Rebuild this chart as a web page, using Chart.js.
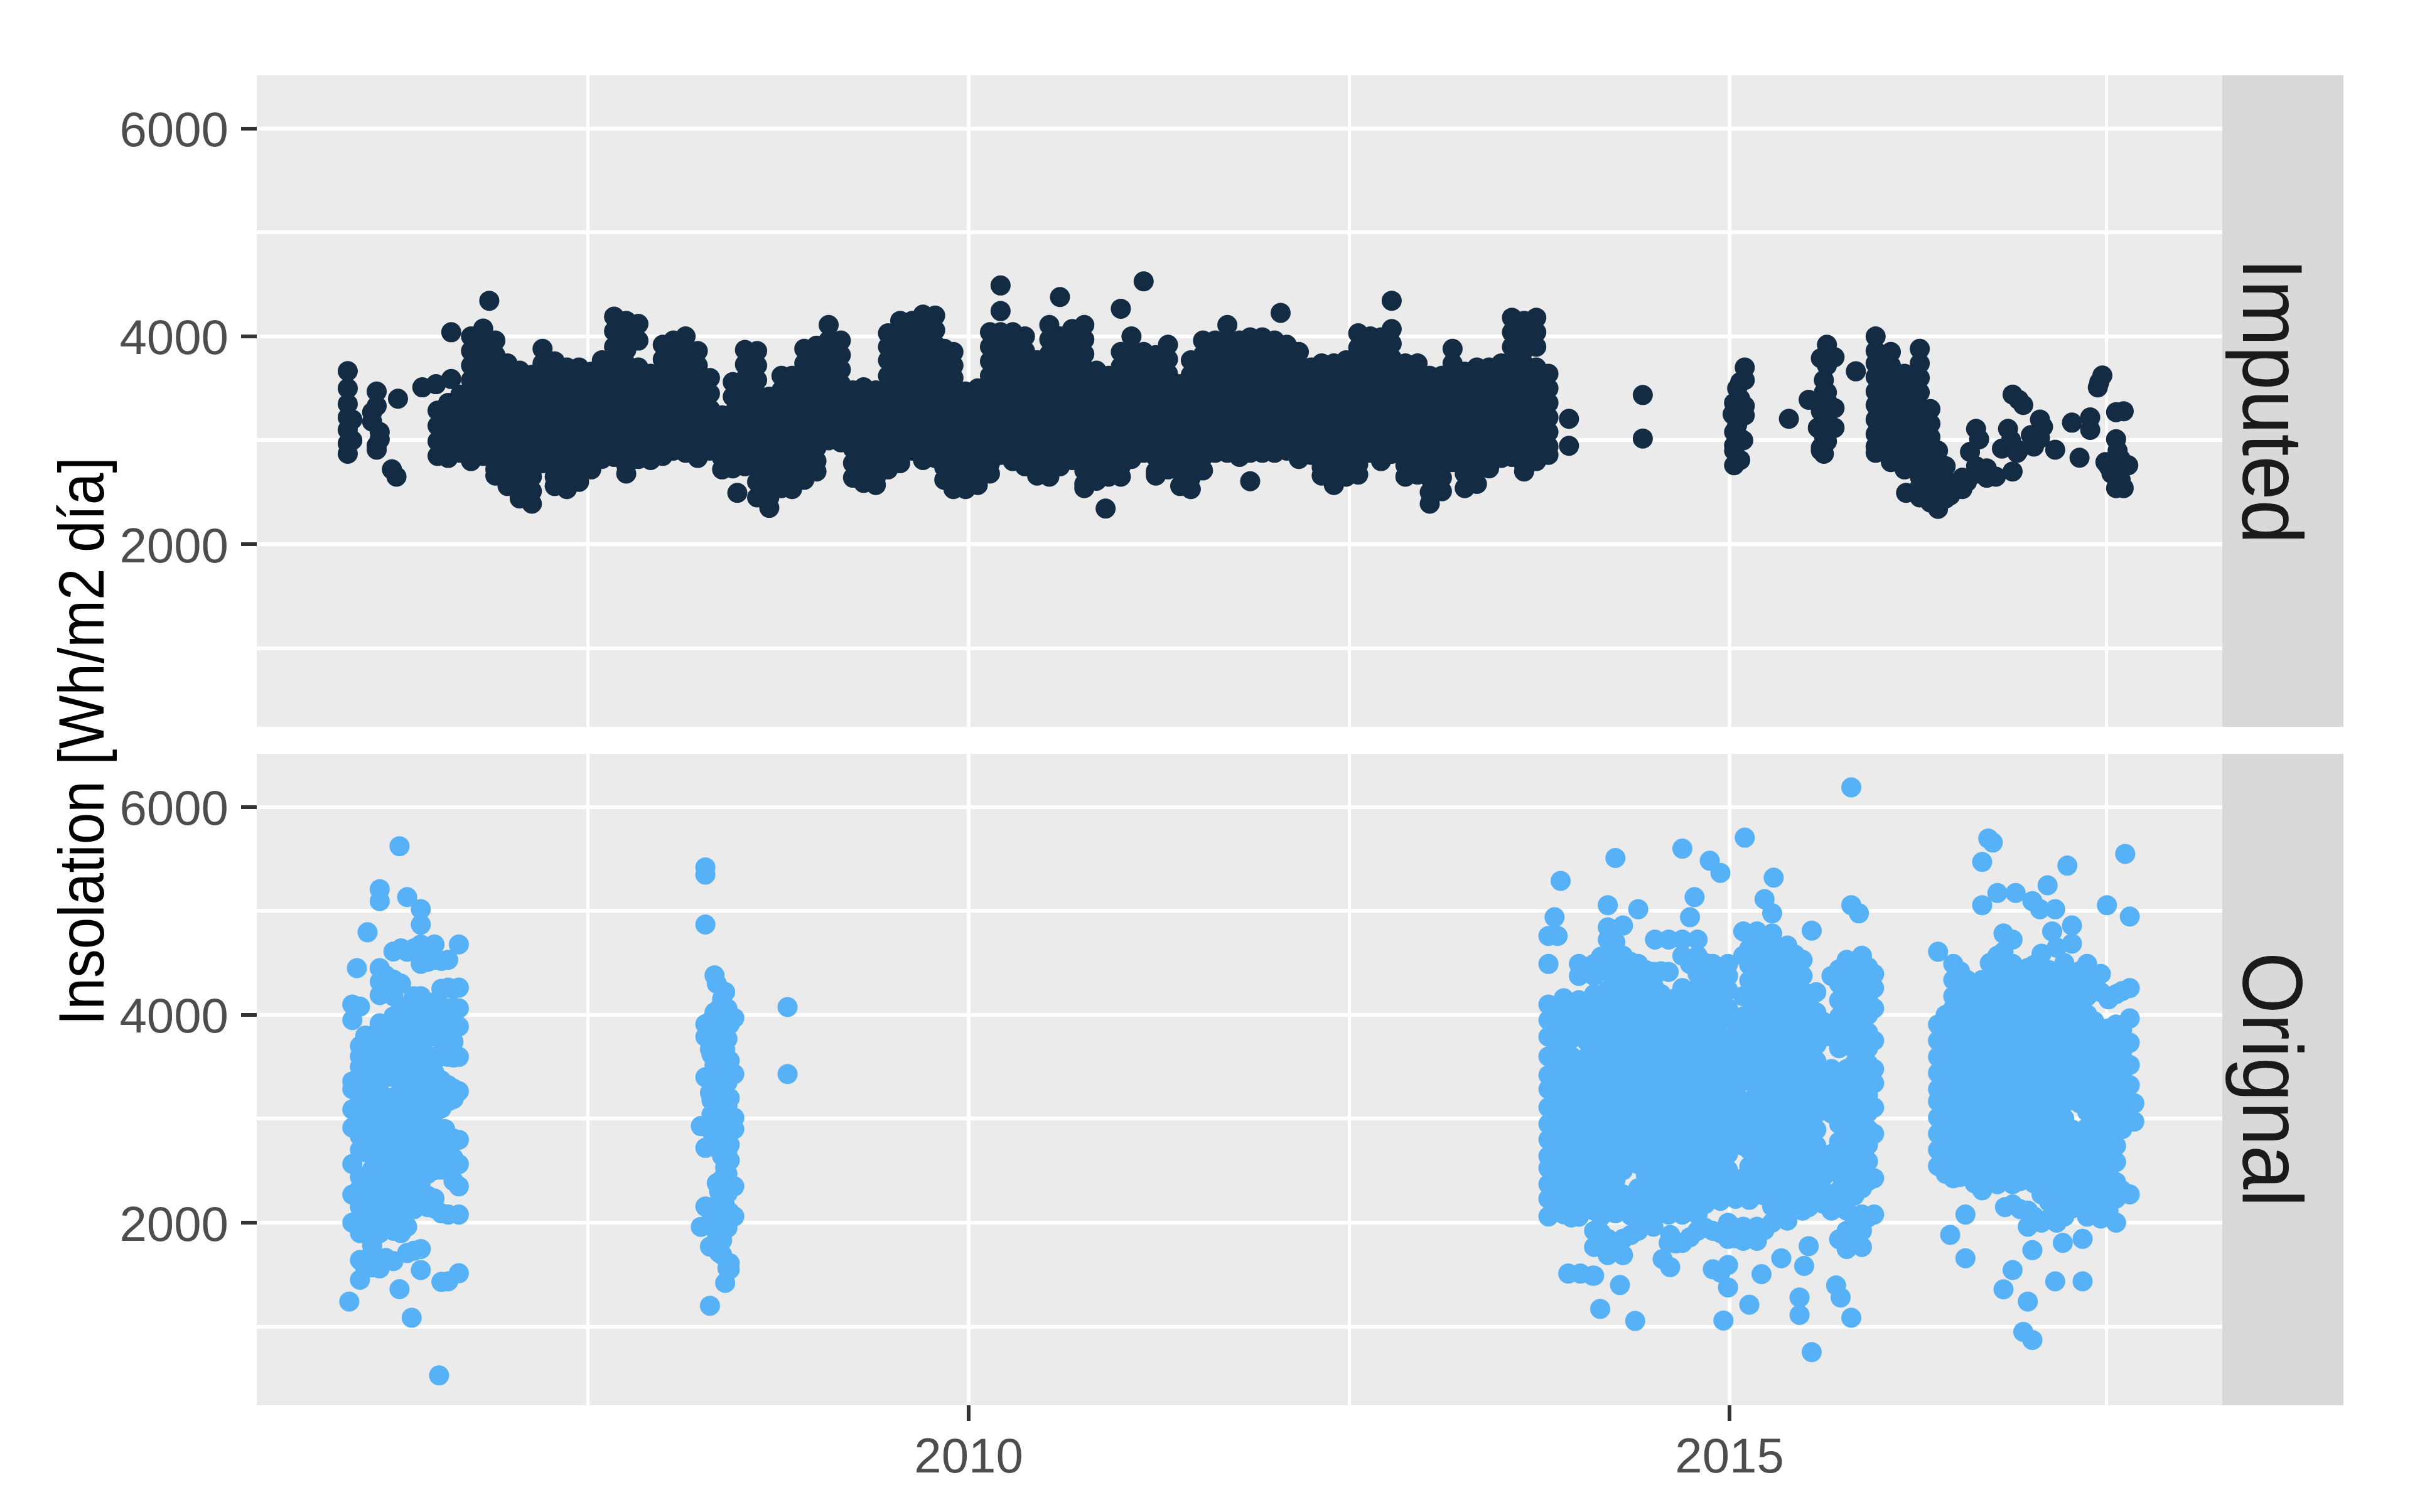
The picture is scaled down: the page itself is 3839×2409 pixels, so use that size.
<!DOCTYPE html>
<html>
<head>
<meta charset="utf-8">
<title>Insolation</title>
<script src="https://cdn.jsdelivr.net/npm/chart.js@4/dist/chart.umd.min.js"></script>
<style>
  body { margin: 0; background: #fff; }
  canvas { position: absolute; left: 0; top: 0; }
</style>
</head>
<body>
<canvas id="imputedChart" width="3839" height="2409"></canvas>
<canvas id="originalChart" width="3839" height="2409"></canvas>
<script>
const yAxisTitle = "Insolation [Wh/m2 día]";
const panelNames = ["Imputed", "Orignal"];
const xLabels = [2010, 2015];
const xMinor = [2007.5, 2012.5, 2017.475];
const yLabels = [2000, 4000, 6000];
const yMinor = [1000, 3000, 5000];

// imputed values
const imputedYears = [
  2005.92, 2005.95, 2006.08, 2006.11, 2006.13, 2006.21, 2006.24, 2006.25, 2006.41, 2006.50, 2006.51, 2006.58, 2006.60, 2006.66, 2006.73, 2006.81, 2006.85, 2006.89, 2006.97, 2007.05, 2007.13, 2007.20, 2007.28, 2007.36, 2007.44, 2007.52, 2007.59, 2007.67, 2007.75, 2007.83, 2007.91, 2007.99, 2008.06, 2008.14, 2008.22, 2008.30, 2008.38, 2008.45, 2008.48, 2008.53, 2008.61, 2008.69, 2008.77, 2008.84, 2008.92, 2009.00, 2009.08, 2009.16, 2009.24, 2009.31, 2009.39, 2009.47, 2009.55, 2009.63, 2009.70, 2009.78,
  2009.90, 2009.98, 2010.06, 2010.14, 2010.21, 2010.29, 2010.37, 2010.45, 2010.53, 2010.60, 2010.68, 2010.76, 2010.84, 2010.90, 2010.92, 2011.00, 2011.07, 2011.15, 2011.23, 2011.31, 2011.39, 2011.46, 2011.54, 2011.62, 2011.70, 2011.78, 2011.85, 2011.93, 2012.01, 2012.05, 2012.09, 2012.17, 2012.25, 2012.32, 2012.40, 2012.48, 2012.56, 2012.64, 2012.71, 2012.78, 2012.87, 2012.95, 2013.03, 2013.11, 2013.18, 2013.26, 2013.34, 2013.42, 2013.50, 2013.57, 2013.65, 2013.73, 2013.81, 2013.945, 2014.43,
  2015.02, 2015.03, 2015.05, 2015.07, 2015.09, 2015.10, 2015.39, 2015.52, 2015.58, 2015.60, 2015.62, 2015.64, 2015.69, 2015.83, 2015.96, 2015.98, 2016.06, 2016.15, 2016.16, 2016.25, 2016.32, 2016.37, 2016.42, 2016.45, 2016.53, 2016.56, 2016.58, 2016.62, 2016.64, 2016.69, 2016.75, 2016.79, 2016.83, 2016.85, 2016.86, 2016.89, 2016.90, 2016.93, 2016.98, 2017.00, 2017.04, 2017.06, 2017.14, 2017.25, 2017.30, 2017.37, 2017.42, 2017.43, 2017.45, 2017.47, 2017.49, 2017.51, 2017.54, 2017.55, 2017.57, 2017.59, 2017.62,
  2009.84, 2016.20
];
const imputedReadings = [
  [3666,3500,3350,3220,3100,2970,2870],[3200,3000],[3270,3180],[3470,3330,2950,2910],[3080,3010],[2720],[2650],[3400],[3510],[3540],[3285,3140,2990,2850],[3360,3210,3070,2930,2830],[3590,4040],[3440,3300,3150,3010,2880],[4000,3860,3720,3580,3440,3290,3150,3010,2880,2800],[4075,3930,3790,3650,3510,3370,3230,3090,2950,2850],[4343],[3960,3820,3680,3540,3400,3260,3120,2980,2840,2720,2660],[3740,3610,3470,3330,3190,3050,2910,2770,2640,2560],[3670,3530,3390,3250,3110,2970,2830,2700,2570,2440],[3630,3490,3350,3210,3070,2930,2790,2650,2510,2390],[3880,3740,3600,3460,3320,3180,3040,2900,2780],[3760,3620,3480,3340,3200,3060,2920,2780,2650,2560],[3700,3560,3420,3280,3140,3000,2860,2720,2600,2530],[3700,3560,3420,3280,3140,3000,2860,2720,2600],[3660,3520,3380,3240,3100,2960,2830,2720],[3770,3630,3490,3350,3210,3070,2930,2820],[4190,4050,3900,3760,3620,3480,3340,3200,3060,2920,2840],[4150,4010,3870,3730,3590,3450,3310,3170,3030,2890,2760,2680],[4120,3960,3700,3560,3420,3280,3140,3000,2860,2820],[3640,3500,3360,3220,3080,2940,2810],[3920,3780,3640,3500,3360,3220,3080,2960,2850],[3960,3820,3680,3540,3400,3260,3120,2990,2900],[4000,3860,3720,3580,3440,3300,3160,3020,2880],[3860,3720,3580,3440,3300,3160,3020,2880,2830],[3600,3450,3300,3150,3010,2900],[3240,3090,2950,2830,2720],[3560,3420,3260,3120,2990,2860,2730],[2494],[3870,3730,3590,3450,3310,3170,3030,2890,2750],[3860,3720,3580,3440,3300,3160,3020,2880,2740,2600,2450],[3420,3280,3140,3000,2860,2720,2580,2450,2350],[3620,3480,3340,3200,3060,2920,2780,2650,2540],[3620,3480,3340,3200,3060,2920,2780,2650,2530],[3880,3740,3600,3460,3320,3180,3040,2900,2760,2620],[3910,3770,3630,3490,3350,3210,3070,2930,2800,2700],[4110,3960,3820,3680,3540,3400,3260,3120,3000],[3960,3820,3680,3540,3400,3260,3120,2980],[3480,3340,3200,3060,2920,2780,2640],[3510,3370,3230,3090,2950,2810,2670,2590],[3480,3340,3200,3060,2920,2780,2640,2570],[4030,3900,3770,3620,3480,3340,3200,3060,2920,2780,2720],[4150,4010,3870,3730,3590,3450,3310,3170,3030,2890,2780],[4150,4010,3870,3730,3590,3450,3310,3170,3030,2900],[4210,4070,3930,3790,3650,3510,3370,3230,3090,2950,2810],[4200,4060,3920,3780,3640,3500,3360,3220,3080,2940,2830],
  [3850,3720,3600,3420,3280,3140,3000,2860,2720,2590,2530],[3470,3330,3190,3050,2910,2770,2640,2530],[3500,3360,3220,3080,2940,2800,2660,2570],[4040,3900,3760,3620,3480,3340,3200,3060,2920,2780,2680],[4490,4244,4040,3900,3760,3620,3480,3340,3200,3060,2920,2860],[4040,3900,3760,3620,3480,3340,3200,3060,2920,2800],[4000,3860,3720,3580,3440,3300,3160,3020,2880,2750],[3770,3630,3490,3350,3210,3070,2930,2790,2660],[4110,3970,3830,3690,3550,3410,3270,3130,2990,2850,2720,2650],[4379,4000,3860,3720,3580,3440,3300,3160,3020,2880,2750],[4070,3930,3790,3650,3510,3370,3230,3090,2950,2810],[4110,3970,3830,3690,3550,3410,3270,3130,2990,2850,2710,2580,2540],[3670,3530,3390,3250,3110,2970,2830,2690,2610],[2343],[3620,3480,3340,3200,3060,2920,2780,2650],[4266,3850,3710,3570,3430,3290,3150,3010,2870,2750,2650],[4000,3860,3720,3580,3440,3300,3160,3020,2880,2820],[4530,3850,3710,3570,3430,3290,3150,3010,2880],[3820,3680,3540,3400,3260,3120,2980,2840,2700,2660],[3920,3780,3640,3500,3360,3220,3080,2940,2800,2720],[3540,3400,3260,3120,2980,2840,2700,2560],[3770,3630,3490,3330,3190,3050,2910,2770,2640,2530],[3960,3820,3680,3540,3400,3260,3120,2980,2840,2710],[3960,3820,3680,3540,3400,3260,3120,2980,2880],[4110,3970,3830,3690,3550,3410,3270,3130,2990,2880],[3960,3820,3680,3540,3400,3260,3120,2980,2840],[3990,3850,3710,3570,3430,3290,3150,3010,2880,2606],[3990,3850,3710,3570,3430,3290,3150,3010,2880],[3960,3820,3680,3540,3400,3260,3120,2980,2880],[4226],[3920,3780,3640,3500,3360,3220,3080,2950,2900],[3850,3710,3570,3430,3290,3150,3010,2880,2820],[3700,3560,3420,3280,3140,3000,2860],[3740,3600,3440,3300,3160,3020,2880,2740,2660],[3740,3600,3470,3330,3190,3050,2910,2770,2640,2570],[3770,3630,3490,3350,3210,3070,2930,2790,2650],[4030,3890,3750,3610,3470,3330,3190,3050,2910,2770,2670],[4000,3860,3720,3580,3440,3300,3160,3020,2880],[3990,3850,3710,3570,3430,3290,3150,3010,2870,2800],[4343,4070,3930,3790,3650,3510,3370,3230,3090,2950,2870],[3740,3600,3460,3320,3180,3040,2900,2760,2650],[3740,3600,3460,3320,3180,3040,2900,2780,2670],[3620,3480,3340,3200,3060,2920,2780,2640,2500,2390],[3620,3480,3340,3200,3060,2920,2780,2640,2510],[3880,3740,3600,3460,3320,3180,3040,2900,2790],[3660,3520,3380,3240,3100,2960,2820,2680,2540],[3700,3560,3420,3280,3140,3000,2860,2720,2580],[3700,3560,3420,3280,3140,3000,2860,2730],[3740,3600,3460,3320,3180,3040,2900,2830],[4180,4040,3900,3770,3630,3490,3350,3210,3070,2930,2840],[4150,4010,3870,3730,3590,3450,3310,3170,3030,2890,2760,2700],[4180,4040,3900,3700,3560,3420,3280,3140,3000,2860,2800],[3640,3500,3360,3220,3080,2940,2860],[3207,2947],[3436,3017],
  [3250],[3360,3080,2950,2900,2760],[3500,3150],[3560,3020,2810,3400],[3300,3000],[3700,3580,3330,3240],[3207],[3390],[3120],[3790,3280,2930,2900],[3580,3460,3190,3040,2870],[3920,3720,3460,3380,2990],[3800,3310,3120],[3664],[4000,3860,3740,3610,3470,3340,3200,3060,2940,2880],[3700,3560,3420,3280,3140,3000],[3850,3720,3580,3450,3310,3170,3030,2890,2790],[3640,3500,3350,3210,3080,2950,2810,2720],[2494],[3880,3740,3600,3460,3320,3190,3050,2920,2780,2650,2550,2450],[3300,3160,3030,2900,2780,2650,2500,2400],[2900,2780,2650,2520,2400,2340],[2750,2620,2500,2440],[2470],[2530,2640],[2600],[2888],[3110,2750],[3010,2680],[2640,2730],[2650],[2920],[3110],[3000],[3440,2700],[2880],[3390,2905],[3340],[3050],[2940],[3020,3200],[3130],[2909],[3170],[2832],[3220,3100],[3509],[3560],[3624],[2790],[2750],[2680],[3010,3270,2540],[2900],[2820,2620],[3280,2540],[2760],
  [3880,3740,3620,3440,3300,3160,3020,2880,2740,2620],[3500,3350,3200,3050,2900]
];

// original values, one list per date column
const originalYears = [
  2005.93, 2005.95, 2005.98, 2006.00, 2006.05, 2006.08, 2006.13, 2006.22, 2006.26, 2006.31, 2006.34, 2006.40, 2006.49, 2006.52, 2006.58, 2006.65,
  2008.24, 2008.27, 2008.30, 2008.33, 2008.36, 2008.40, 2008.43, 2008.46, 2008.81,
  2013.81, 2013.85, 2013.87, 2013.89, 2013.91, 2013.94, 2014.01, 2014.02, 2014.10, 2014.11, 2014.15, 2014.20, 2014.25, 2014.28, 2014.30, 2014.38, 2014.40, 2014.50, 2014.51, 2014.56, 2014.60, 2014.61, 2014.69, 2014.74, 2014.77, 2014.79, 2014.87, 2014.89, 2014.94, 2014.96, 2014.99, 2015.09, 2015.10, 2015.13, 2015.18, 2015.21, 2015.23, 2015.28, 2015.29, 2015.34, 2015.38, 2015.46, 2015.48, 2015.49, 2015.52, 2015.54, 2015.57, 2015.67, 2015.70, 2015.73, 2015.77, 2015.80, 2015.85, 2015.87, 2015.95,
  2016.37, 2016.45, 2016.47, 2016.55, 2016.56, 2016.66, 2016.70, 2016.73, 2016.76, 2016.80, 2016.86, 2016.88, 2016.93, 2016.96, 2016.99, 2017.04, 2017.05, 2017.09, 2017.12, 2017.14, 2017.15, 2017.19, 2017.22, 2017.25, 2017.32, 2017.35, 2017.44, 2017.48, 2017.54, 2017.60, 2017.63, 2017.66,
  2006.035, 2006.17, 2006.27, 2006.355, 2006.445, 2006.535, 2006.615,
  2008.31, 2008.345, 2008.38, 2008.415,
  2013.86, 2013.96, 2014.06, 2014.155, 2014.25, 2014.35, 2014.45, 2014.55, 2014.645, 2014.74, 2014.84, 2014.94, 2015.04, 2015.13, 2015.23, 2015.33, 2015.43, 2015.52, 2015.62, 2015.72, 2015.82, 2015.91,
  2016.42, 2016.515, 2016.61, 2016.71, 2016.81, 2016.91, 2017.00, 2017.10, 2017.20, 2017.30, 2017.395, 2017.49, 2017.58,
  2006.10, 2006.19, 2006.24, 2006.30, 2006.38, 2006.47, 2006.56
];
const originalReadings = [
  [1240],[4100,3950,3360,3285,3090,2915,2565,2270,2000],[4450],[4080,3700,3600,3500,3400,3200,3000,2830,2700,2440,2330,2150,2030,1900,1640,1450],[4795],[3800,3660,3500,3360,3230,3090,2950,2810,2690,2510,2350,2190,2050,1900,1780,1700,1570],[5210,5095,4450,4320,4190,3920,3800,3650,3520,3400,3260,3120,2970,2830,2700,2470,2310,2170,2030,1900,1560],[4610,4340,4180,3985,3850,3560,3400,3207,3050,2900,2760,2467,2311,2117,1922,1630],[5624,1360],[5134,4608,4024,3868,3713,3557,3362,3207,3051,2895,2467,2311,2117,1961,1708],[1085],[5017,4869,4678,4491,4180,4024,3868,3674,3479,3323,3168,3012,2837,2545,2389,2272,1747,1544],[4678,4530,4122,3966,3791,3596,3440,3246,3051,2798,2642,2506,2233,2136],[530],[4530,4262,4063,3907,3752,3596,3323,3168,2817,2662,2506,2078,1435],[4678,4262,4063,3888,3596,3265,2798,2564,2350,2078,1513],
  [2930,1960],[5420,5350,4870,3910,3790,3400,2720,2155],[3670,3250,2900,1770,1200],[4380,4024,3518,3100,2800],[4060,3790,3400,3250,3100,2900,2700,2300,2150,1950,1710],[4220,3910,3670,3210,3050,2530,2350,2160,1420],[3910,3560,3200,2900,2750,2600,2350,2100,1610,1550],[3970,3430,3010,2900,2350,2060],[4075,3430],
  [4760,4490,4100,3950,3790,3600,3420,3285,3110,2950,2800,2640,2525,2370,2230,2060],[4940],[4760],[5290],[4160,4005,3850,3675,3520,3360,3207,3050,2895,2740,2565,2390,2230,2080],[1510],[4490,4375,4141,3985,3830,3500,3345,3188,3032,2876,2720,2545,2390,2233,2058],[1510],[1490],[4490,4375,4199,4024,3868,3713,3538,3362,3285,3051,2895,2740,2584,2428,2272,2117,1922,1766,1490],[1170],[5056,4842,4725,4569,4414,4238,4063,3907,3713,3557,3362,3207,3051,2895,2740,2584,2428,2272,2117,1844,1688],[5510],[1400],[4860,4569,4414,4238,4063,3907,3752,3596,3440,3285,3129,2973,2817,2662,2506,2272,2117,1844,1688],[1054],[5017,4491,4277,4122,3966,3811,3655,3499,3343,3188,3032,2876,2720,2564,2331,2175,1922],[4414,4277,4102,3946,3791,3635,3479,3323,3168,3012,2856,2701,2545,2389,2233,2078,1961],[4725],[1650],[4725,4414,4102,3946,3791,3635,3479,3323,3168,3012,2856,2701,2545,2389,2233,2078,1805],[1572,1880],[5600,4725,4569,4258,4102,3946,3791,3635,3479,3323,3168,3012,2856,2701,2545,2389,2233,2078,1805],[4940],[5134],[4725,4569,4394,4258,4102,3946,3791,3635,3479,3323,3168,3012,2856,2701,2545,2389,2233,2078,1922],[5484],[4491,4355,4199,4044,3888,3732,3577,3421,3265,3109,2954,2740,2584,2428,2233,1922,1552],[5367],[1058],[4491,4375,4238,4063,3752,3596,3440,3285,3129,2973,2817,2662,2506,2272,1999,1844,1592,1377],[4803,4569,4180,3985,3830,3674,3518,3362,3090,2895,2740,2428,2311,1961,1825],[5706],[1210],[4803,4530,4375,4219,4063,3907,3752,3596,3440,3285,3090,2934,2778,2623,2467,2272,1961,1825],[1505],[5114],[4978,4784,4647,4491,4336,4180,4024,3868,3713,3557,3401,3246,3090,2934,2778,2623,2467,2311,2156,2000],[5321],[1657],[4667,4491,4336,4199,4044,3888,3732,3577,3421,3265,3109,2954,2798,2642,2486,2331,2175,2020],[1280,1112],[4530,4375,4219,4063,3907,3752,3596,3440,3285,3129,2973,2817,2662,2506,2350,2117],[1583],[1774],[4811,754],[4219,4024,3868,3713,3557,3401,3246,3051,2895,2740,2545,2428,2272,2195],[4375,3888,3791,3479,3323,3168,3051,2662,2545,2272,2117],[1396],[1280],[4530,4375,4219,4063,3907,3752,3479,3323,3168,3012,2856,2701,2545,2389,2233,2117,1922,1747],[6190,5056,1085],[4978],[4569,4414,4258,4102,3907,3752,3596,3440,3285,3129,2973,2817,2662,2428,2331,2078,1922,1766],[4394,4258,4063,3752,3479,3343,3109,2856,2428,2078],
  [4608,3907,3752,3596,3440,3285,3168,3012,2856,2701,2545],[1883],[4491,4336,4180,4063,3907,3752,3596,3440,3285,3129,2973,2817,2662,2506,2428],[2078,1657],[4336,4180,4024,3868,3713,3557,3401,3246,3090,2934,2778,2623,2467],[5472,5056,4336,4180,4024,3868,3713,3557,3401,3246,3090,2934,2778,2623,2467,2311],[5698],[5659],[5173,4569,4394,4238,4083,3927,3771,3616,3460,3304,3148,2993,2837,2681,2525,2370],[4783,4608,1358],[4725,4491,4238,4083,3927,3771,3616,3460,3304,3148,2993,2837,2681,2525,2370,2175,1544],[5173],[949],[4452,4238,4024,3868,3713,3557,3401,3246,3090,2934,2778,2623,2467,2117,1961,1241],[5095,1735,871],[5017],[4589,4375,4180,4005,3849,3694,3538,3382,3226,3070,2915,2759,2603,2447,2272,2000],[5247],[4803],[5017,1435],[4647,4355,4180,4005,3849,3694,3538,3382,3226,3070,2915,2759,2603,2447,2272,2117,2000],[1805],[5437],[4861,4686,4336,4180,4005,3849,3694,3538,3382,3226,2895,2740,2584,2428,2272,2136],[1844,1435],[4491,4336,4180,4005,3849,3694,3538,3382,3226,3070,2915,2701,2545,2389,2233,2058],[4394,4219,3868,3791,3518,3362,3207,3051,2856,2701,2545,2389,2272,2039],[5056],[4199,3907,3752,3596,3440,3285,3051,2934,2740,2584,2389,2233,2000],[5550],[4947,4258,3966,3732,3518,3323,3129,2973,2272],[3149,2973],
  [3800,3650,3520,3380,3180,3020,2860,2680,2420,2300,2120,1980,1560],[4380,4250,3870,3700,3560,3400,3200,3040,2890,2740,2480,2320,2150,1990,1660],[4640,4300,4080,3930,3780,3620,3480,3260,3120,2960,2820,2420,2260,2080,1900],[4640,4180,3990,3800,3640,3500,3340,3170,3020,2860,2430,2280,2130,1730],[4510,4110,3950,3800,3610,3460,3290,3110,2970,2790,2620,2470,2260,2150],[4520,4250,4080,3920,3760,3600,3370,3220,3100,2810,2660,2510,2090,1430],[4250,4060,3900,3740,3590,3290,3190,2810,2620,2400],
  [3950,3800,3620,3330,3180,3040,2880,2150,2030],[4300,3950,3700,3560,3170,3020,2830,2380,2060,1900],[4150,3600,3450,3300,2980,2820,2640,2420,2220,1830,1690],[4060,3770,3500,3350,3130,2860,2700,2470,2280,1950,1560],
  [4030,3870,3720,3560,3400,3240,3080,2920,2770,2610,2460,2300,2150],[4090,3920,3770,3600,3450,3290,3130,2980,2820,2660,2500,2350,2190,2050],[4430,4060,3900,3750,3590,3420,3270,3110,2950,2800,2640,2480,2320,2170],[4560,4130,3960,3800,3640,3480,3320,3170,3010,2850,2690,2530,2370,2210,2060,1900],[4700,4490,4330,4150,3990,3830,3670,3510,3350,3190,3040,2880,2720,2570,2410,2250,2090,1790],[4510,4340,4180,4020,3860,3700,3540,3380,3230,3070,2910,2760,2600,2210,2070,1880],[4430,4200,4040,3880,3720,3560,3400,3250,3090,2930,2770,2610,2460,2300,2140,1990],[4420,4200,4030,3870,3710,3550,3400,3240,3080,2920,2770,2610,2450,2290,2130],[4160,4000,3840,3690,3530,3370,3210,3060,2900,2740,2580,2420,2270,2110,1800],[4490,4180,4020,3860,3700,3550,3390,3230,3070,2920,2760,2600,2440,2290,2130,1860],[4500,4280,4120,3960,3810,3650,3490,3340,3180,3020,2860,2700,2500,2340,2180,1950],[4420,4280,4110,3950,3790,3640,3480,3320,3160,3000,2850,2690,2530,2370,2210,1900,1520],[3910,3750,3590,3430,3280,3120,2960,2810,2380,2230,1950,1850],[4640,4480,4330,4170,4010,3860,3700,3540,3380,3170,3010,2850,2700,2540,2380,2220,1910],[4640,4470,4310,4150,4000,3840,3680,3520,3370,3210,3050,2890,2740,2580,2420,2260,1930],[4620,4450,4290,4130,3970,3810,3660,3500,3340,3180,3030,2870,2710,2550,2400,2240,2080],[4580,4410,4260,4100,3950,3790,3630,3470,3320,3160,3000,2850,2690,2530,2370,2210],[4200,4140,3980,3820,3670,3510,3350,3200,3040,2880,2720,2570,2410,2250,2150],[3930,3790,3400,3240,3090,2600,2450,2300,2180],[4440,4300,4140,3980,3830,3680,3420,3260,3100,2950,2780,2620,2470,2310,2150,1840],[4480,4300,4140,3980,3830,3670,3530,3370,3210,3050,2890,2740,2580,2420,2260,2040,1850],[4460,4320,4180,4000,3830,3680,3530,3380,3220,3060,2900,2750,2590,2400,2050],
  [4000,3830,3670,3520,3360,3210,3060,2900,2750,2600,2470],[4420,4260,4100,3980,3830,3670,3510,3360,3210,3050,2890,2740,2580,2440],[4260,4100,3950,3790,3630,3480,3320,3170,3010,2850,2700,2540,2380],[4500,4260,4100,3950,3790,3640,3480,3320,3170,3010,2860,2700,2540,2390],[4470,4310,4160,4000,3850,3690,3540,3380,3230,3070,2910,2760,2600,2450,2150],[4400,4160,3950,3790,3640,3480,3320,3170,3010,2860,2700,2540,2400,2130],[4480,4300,4100,3950,3790,3630,3480,3320,3160,3000,2850,2690,2540,2380,2060],[4430,4270,4090,3930,3770,3620,3460,3300,3150,2990,2840,2680,2520,2360,2200,2040],[4500,4270,4090,3930,3770,3620,3460,3300,3150,3000,2820,2680,2510,2350,2190,2060],[4420,4260,4090,3930,3770,3620,3460,3300,3150,2800,2620,2470,2310,2150],[4310,3940,3830,3660,3440,3290,3130,2960,2780,2620,2470,2310,2130],[4150,3870,3680,3520,3360,3170,2990,2830,2660,2470,2310,2110],[4230,3860,3650,3430,3220,3040,2900,2310],
  [2860,2640,2590],[2870,2660,2580],[2880,2700,2610,2530],[2800,2680,2600],[2900,2750,2650],[2900,2760,2600],[2900,2720,2610]
];

const toPoints = (years, readings) =>
  years.flatMap((year, i) => readings[i].map((value) => ({ x: year, y: value })));

// grey panel, facet strip, and the shared y title
const panelDecor = {
  id: "panelDecor",
  beforeDraw(chart) {
    const { ctx, chartArea: a } = chart;
    ctx.save();
    ctx.fillStyle = "#EBEBEB";
    ctx.fillRect(a.left, a.top, a.right - a.left, a.bottom - a.top);
    ctx.restore();
  },
  afterDraw(chart, args, opts) {
    const { ctx, chartArea: a } = chart;
    ctx.save();
    ctx.fillStyle = "#D9D9D9";
    ctx.fillRect(a.right, a.top, 193, a.bottom - a.top);
    ctx.fillStyle = "#1A1A1A";
    ctx.font = "126px 'Liberation Sans'";
    ctx.textAlign = "center";
    ctx.textBaseline = "alphabetic";
    ctx.translate(a.right + 33, (a.top + a.bottom) / 2);
    ctx.rotate(Math.PI / 2);
    ctx.scale(1, 1.07);
    ctx.fillText(opts.strip, 0, 0);
    ctx.restore();

    if (opts.title) {
      ctx.save();
      ctx.fillStyle = "#000";
      ctx.font = "91px 'Liberation Sans'";
      ctx.textAlign = "center";
      ctx.textBaseline = "alphabetic";
      ctx.translate(165, 1181);
      ctx.rotate(-Math.PI / 2);
      ctx.scale(1, 1.12);
      ctx.fillText(opts.title, 0, 0);
      ctx.restore();
    }
  },
};

const makePanel = (id, strip, colour, points, padding, showX, title) => {
  const xTicks = [...xLabels, ...xMinor];
  const yTicks = [...yLabels, ...yMinor];

  return new Chart(document.getElementById(id), {
    type: "scatter",
    data: {
      datasets: [
        {
          data: points,
          backgroundColor: colour,
          borderWidth: 0,
          pointRadius: 16,
        },
      ],
    },
    plugins: [panelDecor],
    options: {
      responsive: false,
      animation: false,
      events: [],
      devicePixelRatio: 1,
      layout: { padding, autoPadding: false },
      plugins: {
        legend: { display: false },
        tooltip: { enabled: false },
        panelDecor: { strip, title },
      },
      scales: {
        x: {
          type: "linear",
          min: 2005.322,
          max: 2018.238,
          afterBuildTicks: (s) => {
            s.ticks = xTicks.map((value) => ({ value }));
          },
          afterFit: (s) => {
            s.height = showX ? 170 : 0;
          },
          border: { display: false },
          grid: {
            color: "#fff",
            lineWidth: (c) => (xLabels.includes(c.tick.value) ? 6 : 5),
            drawTicks: showX,
            tickLength: 25,
            tickWidth: 6,
            tickColor: (c) => (xLabels.includes(c.tick.value) ? "#333" : "transparent"),
          },
          ticks: {
            display: showX,
            autoSkip: false,
            maxRotation: 0,
            padding: 14,
            color: "#4D4D4D",
            font: { family: "'Liberation Sans'", size: 78 },
            callback: (v) => (xLabels.includes(v) ? String(v) : ""),
          },
        },
        y: {
          type: "linear",
          min: 242,
          max: 6513,
          afterBuildTicks: (s) => {
            s.ticks = yTicks.map((value) => ({ value }));
          },
          afterFit: (s) => {
            s.width = 409;
          },
          border: { display: false },
          grid: {
            color: "#fff",
            lineWidth: 6,
            tickLength: 25,
            tickWidth: 6,
            tickColor: (c) => (yLabels.includes(c.tick.value) ? "#333" : "transparent"),
          },
          ticks: {
            autoSkip: false,
            padding: 20,
            color: "#4D4D4D",
            // small line height with a blank first line sets the labels just below their ticks
            font: { family: "'Liberation Sans'", size: 78, lineHeight: 0.18 },
            callback: (v) => (yLabels.includes(v) ? ["", String(v)] : ""),
          },
        },
      },
    },
  });
};

makePanel("imputedChart", panelNames[0], "#132B43", toPoints(imputedYears, imputedReadings),
  { top: 120, right: 299, bottom: 1251, left: 0 }, false, null);
makePanel("originalChart", panelNames[1], "#56B1F7", toPoints(originalYears, originalReadings),
  { top: 1201, right: 299, bottom: 0, left: 0 }, true, yAxisTitle);
</script>
</body>
</html>
